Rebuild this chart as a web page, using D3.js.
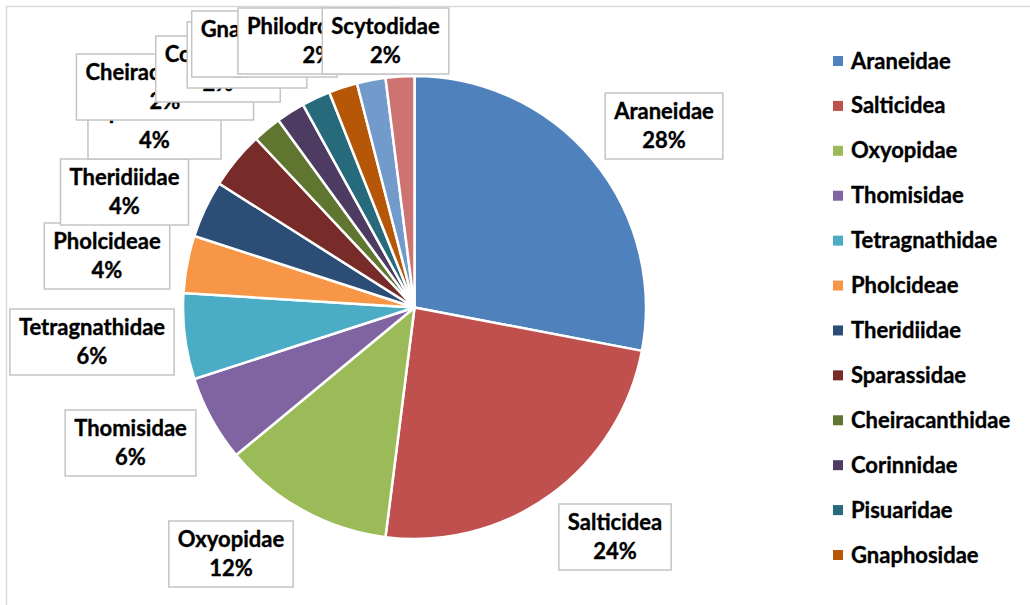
<!DOCTYPE html>
<html>
<head>
<meta charset="utf-8">
<script src="https://cdn.jsdelivr.net/npm/d3@7"></script>
<style>
  html, body { margin: 0; padding: 0; background: #fff; }
  svg { display: block; }
  text { font-family: Lato, "Open Sans", sans-serif; font-weight: bold; fill: #000; stroke: #000; stroke-width: 0.35px; }
</style>
</head>
<body>
<svg id="chart" width="1030" height="605"></svg>
<script>
// Spider families and their share of the collection (%)
const families = [
  "Araneidae", "Salticidea", "Oxyopidae", "Thomisidae", "Tetragnathidae",
  "Pholcideae", "Theridiidae", "Sparassidae", "Cheiracanthidae", "Corinnidae",
  "Pisuaridae", "Gnaphosidae", "Philodromidae", "Scytodidae"
];
const shares = [28, 24, 12, 6, 6, 4, 4, 4, 2, 2, 2, 2, 2, 2];
const colors = [
  "#4F81BD", "#C0504D", "#9BBB59", "#8064A2", "#4BACC6",
  "#F79646", "#2C4D75", "#772C2A", "#5F7530", "#4D3B62",
  "#276A7C", "#B65708", "#729ACA", "#CD7371"
];
// Families listed in the legend (the list is cut off by the chart area)
const legendCount = 12;

// Label callout layout: box centre x and box top y, one per family
const labelCx  = [664, 615, 231, 130.5, 92, 107, 124.5, 154.5, 165, 218, 247, 264.5, 318, 385.5];
const labelTop = [93, 504, 521, 410, 309, 223, 159, 93, 54, 36, 22, 11, 8, 8];

const svg = d3.select("#chart");
const W = 1030, H = 605;

// Chart area border
svg.append("rect")
  .attr("x", 6.5).attr("y", 6.5)
  .attr("width", W + 20).attr("height", H + 20)
  .attr("fill", "#fff")
  .attr("stroke", "#d9d9d9")
  .attr("stroke-width", 1.5);

const cx = 414.5, cy = 307.5, radius = 231.5;

const color = d3.scaleOrdinal().domain(families).range(colors);

const pie = d3.pie().sort(null).value(d => d.value);
const data = families.map((name, i) => ({ name, value: shares[i], i }));
const arcs = pie(data);
const arc = d3.arc().innerRadius(0).outerRadius(radius);

const g = svg.append("g").attr("transform", `translate(${cx},${cy})`);
g.selectAll("path.slice")
  .data(arcs)
  .join("path")
  .attr("class", "slice")
  .attr("d", arc)
  .attr("fill", d => color(d.data.name))
  .attr("stroke", "#fff")
  .attr("stroke-width", 2.5)
  .attr("stroke-linejoin", "round");

// Data labels: white boxes with name and percentage
const fontSize = 22;
const labels = svg.append("g");
arcs.forEach(d => {
  const i = d.data.i;
  const lg = labels.append("g");
  const rect = lg.append("rect");
  const t1 = lg.append("text")
    .attr("x", labelCx[i]).attr("y", labelTop[i] + 26)
    .attr("text-anchor", "middle")
    .style("font-size", fontSize + "px")
    .text(d.data.name);
  const t2 = lg.append("text")
    .attr("x", labelCx[i]).attr("y", labelTop[i] + 55)
    .attr("text-anchor", "middle")
    .style("font-size", fontSize + "px")
    .text(d3.format(".0%")(d.data.value / 100));
  const w = Math.max(t1.node().getComputedTextLength(), t2.node().getComputedTextLength()) + 18;
  rect.attr("x", labelCx[i] - w / 2).attr("y", labelTop[i])
    .attr("width", w).attr("height", 66)
    .attr("fill", "#fff")
    .attr("stroke", "#c4c4c4")
    .attr("stroke-width", 1.5);
});

// Legend
const legendY = d3.scalePoint()
  .domain(families.slice(0, legendCount))
  .range([61, 555]);
const legend = svg.append("g");
families.slice(0, legendCount).forEach(name => {
  const y = legendY(name);
  legend.append("rect")
    .attr("x", 833).attr("y", y - 5)
    .attr("width", 10).attr("height", 10)
    .attr("fill", color(name));
  legend.append("text")
    .attr("x", 851).attr("y", y + 7.5)
    .style("font-size", fontSize + "px")
    .text(name);
});
</script>
</body>
</html>
